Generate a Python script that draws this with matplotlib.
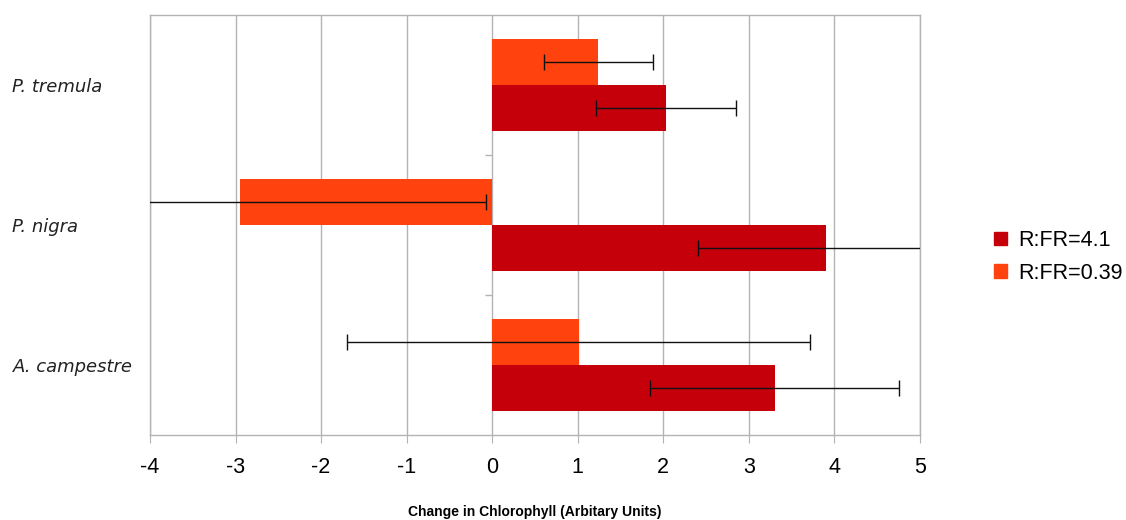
import numpy as np
import matplotlib
matplotlib.use("Agg")
import matplotlib.pyplot as plt
from matplotlib.patches import Patch

# data (top to bottom)
species = ["P. tremula", "P. nigra", "A. campestre"]
high_rfr = [2.03, 3.90, 3.30]      # R:FR=4.1
high_rfr_err = [0.82, 1.50, 1.46]
low_rfr = [1.24, -2.95, 1.01]      # R:FR=0.39
low_rfr_err = [0.64, 2.88, 2.71]
series_names = ["R:FR=4.1", "R:FR=0.39"]
xticks = [-4, -3, -2, -1, 0, 1, 2, 3, 4, 5]

DARK_RED = "#C5000B"
ORANGE = "#FF420E"
GRID = "#b3b3b3"

fig = plt.figure(figsize=(11.26, 5.2), dpi=100)
ax = fig.add_axes([150 / 1126, 1 - 435 / 520, 770 / 1126, 420 / 520])

y = np.arange(len(species))
h = 0.33
err_kw = dict(ecolor="#111111", elinewidth=1.0, capsize=5.5, capthick=1.0)

ax.barh(y - h / 2, low_rfr, height=h, color=ORANGE, xerr=low_rfr_err,
        error_kw=err_kw, zorder=3)
ax.barh(y + h / 2, high_rfr, height=h, color=DARK_RED, xerr=high_rfr_err,
        error_kw=err_kw, zorder=3)

ax.set_xlim(xticks[0], xticks[-1])
ax.set_ylim(len(species) - 0.5, -0.5)

# small category separators on the zero line
ax.hlines(y[:-1] + 0.5, -0.08, 0, color=GRID, linewidth=1, zorder=2)

ax.set_xticks(xticks)
ax.set_xticklabels([str(t) for t in xticks], fontsize=15.5,
                   family="Liberation Sans")
ax.tick_params(axis="x", length=6, color=GRID, pad=10)
ax.grid(axis="x", color=GRID, linewidth=1, zorder=0)

ax.set_yticks(y)
ax.set_yticklabels(species, fontsize=13, style="italic", color="#222222",
                   ha="left")
ax.tick_params(axis="y", length=0, pad=99)

for s in ax.spines.values():
    s.set_color(GRID)
    s.set_linewidth(1)

ax.set_xlabel("Change in Chlorophyll (Arbitary Units)", fontsize=10,
              fontweight="bold", family="Liberation Sans", labelpad=19)

handles = [Patch(color=DARK_RED), Patch(color=ORANGE)]
fig.legend(handles, series_names, loc="center left",
           bbox_to_anchor=(975 / 1126, 1 - 257 / 520), frameon=False,
           prop={"family": "Liberation Sans", "size": 15.5},
           handlelength=0.6, handleheight=0.6, handletextpad=0.5,
           labelspacing=0.55)

fig.savefig("out.png", dpi=100)
